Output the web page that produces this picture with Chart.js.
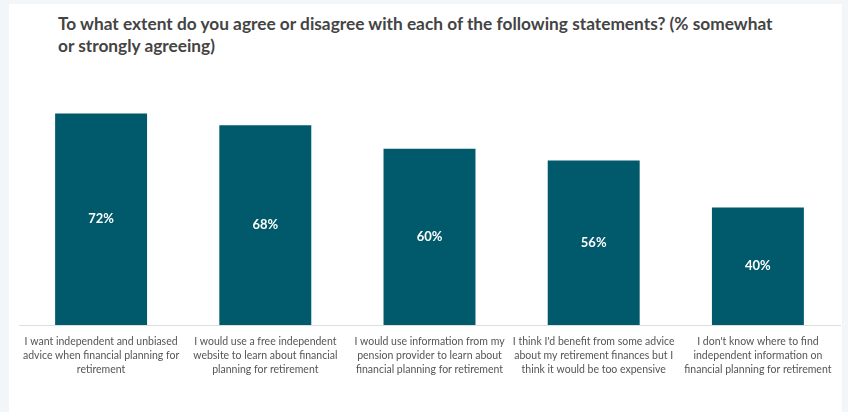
<!DOCTYPE html>
<html>
<head>
<meta charset="utf-8">
<script src="https://cdn.jsdelivr.net/npm/chart.js@4"></script>
<style>
  html, body { margin: 0; padding: 0; }
  body { width: 848px; height: 412px; background: #f3f6f8; position: relative; overflow: hidden; }
  #panel { position: absolute; left: 9px; top: 4px; width: 833px; height: 408px; background: #ffffff; }
  #titulo {
    position: absolute; left: 49px; top: 9px; width: 780px;
    font-family: Lato, sans-serif; font-weight: bold; font-size: 17.3px; line-height: 22px; color: #444444;
  }
  #contenedor { position: absolute; left: 0; top: 66px; width: 833px; height: 342px; }
</style>
</head>
<body>
<div id="panel">
  <div id="titulo">To what extent do you agree or disagree with each of the following statements? (% somewhat<br>or strongly agreeing)</div>
  <div id="contenedor"><canvas id="graficoBarras"></canvas></div>
</div>
<script>
const afirmaciones = [
    ["I want independent and unbiased", "advice when financial planning for", "retirement"],
    ["I would use a free independent", "website to learn about financial", "planning for retirement"],
    ["I would use information from my", "pension provider to learn about", "financial planning for retirement"],
    ["I think I'd benefit from some advice", "about my retirement finances but I", "think it would be too expensive"],
    ["I don't know where to find", "independent information on", "financial planning for retirement"]
];
const porcentajes = [72, 68, 60, 56, 40];

// etiquetas de valor en el centro de cada barra
const etiquetasValor = {
    id: "etiquetasValor",
    afterDatasetsDraw(chart) {
        const ctx = chart.ctx;
        const meta = chart.getDatasetMeta(0);
        ctx.save();
        ctx.fillStyle = "#ffffff";
        ctx.font = "bold 13px Lato, sans-serif";
        ctx.textAlign = "center";
        ctx.textBaseline = "middle";
        meta.data.forEach((bar, i) => {
            const y = (bar.y + bar.base) / 2;
            ctx.fillText(porcentajes[i] + "%", bar.x, y);
        });
        ctx.restore();
    }
};

const ctx = document.getElementById("graficoBarras").getContext("2d");
new Chart(ctx, {
    type: "bar",
    data: {
        labels: afirmaciones,
        datasets: [{
            data: porcentajes,
            backgroundColor: "#005a6b",
            categoryPercentage: 1,
            barPercentage: 0.56
        }]
    },
    options: {
        responsive: true,
        maintainAspectRatio: false,
        animation: false,
        layout: { padding: { left: 10, right: 2, top: 20, bottom: 26 } },
        plugins: {
            legend: { display: false },
            tooltip: { enabled: false }
        },
        scales: {
            x: {
                grid: { display: false, drawTicks: false },
                border: { color: "#dddddd", width: 1 },
                ticks: {
                    color: "#555555",
                    padding: 10,
                    maxRotation: 0,
                    autoSkip: false,
                    font: { family: "Lato, sans-serif", size: 10.5, lineHeight: 1.3 }
                }
            },
            y: {
                display: false,
                min: 0,
                max: 80
            }
        }
    },
    plugins: [etiquetasValor]
});
</script>
</body>
</html>
